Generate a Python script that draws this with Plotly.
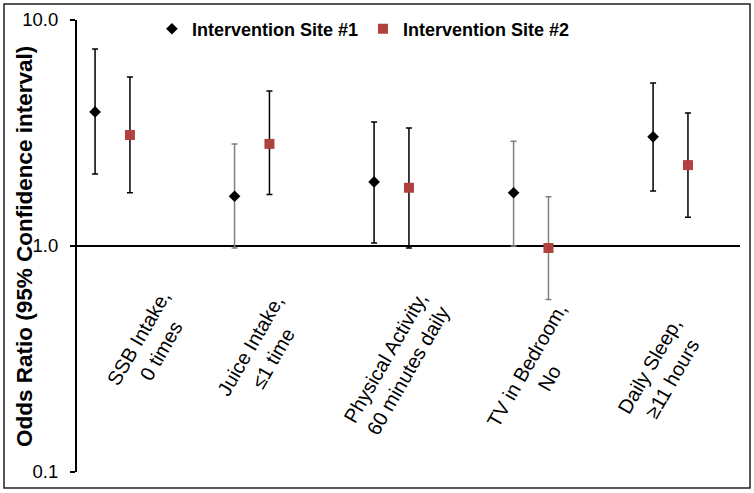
import plotly.graph_objects as go
import numpy as np

categories = ["SSB Intake,<br>0 times", "Juice Intake,<br>≤1 time",
              "Physical Activity,<br>60 minutes daily", "TV in Bedroom,<br>No",
              "Daily Sleep,<br>≥11 hours"]
site1_or = [3.92, 1.66, 1.92, 1.72, 3.04]
site1_lo = [2.08, 0.98, 1.03, 1.00, 1.75]
site1_hi = [7.44, 2.83, 3.54, 2.91, 5.26]
site2_or = [3.10, 2.83, 1.81, 0.98, 2.28]
site2_lo = [1.72, 1.69, 0.98, 0.58, 1.34]
site2_hi = [5.59, 4.85, 3.33, 1.65, 3.88]
site1_gray = [False, True, False, True, False]
site2_gray = [False, False, False, True, False]
y_tickvals = [0.1, 1, 10]
y_ticktext = ["0.1", "1.0", "10.0"]

FONT = "Liberation Sans, Arial, sans-serif"
RED = "#B0413E"
GRAY = "#808080"
offset = 0.125
idx = np.arange(len(categories))

fig = go.Figure()

def add_errors(xs, ors, los, his, gray_flags):
    for flag, col in [(False, "black"), (True, GRAY)]:
        y = [o if g == flag else None for o, g in zip(ors, gray_flags)]
        plus = [h - o for o, h in zip(ors, his)]
        minus = [o - l for o, l in zip(ors, los)]
        fig.add_trace(go.Scatter(
            x=xs, y=y, mode="markers", marker=dict(size=1, opacity=0),
            error_y=dict(type="data", array=plus, arrayminus=minus, color=col,
                         thickness=1.5, width=3),
            showlegend=False, hoverinfo="skip"))

add_errors(idx - offset, site1_or, site1_lo, site1_hi, site1_gray)
add_errors(idx + offset, site2_or, site2_lo, site2_hi, site2_gray)

fig.add_trace(go.Scatter(x=idx - offset, y=site1_or, mode="markers",
                         name="Intervention Site #1",
                         marker=dict(symbol="diamond", size=9, color="black")))
fig.add_trace(go.Scatter(x=idx + offset, y=site2_or, mode="markers",
                         name="Intervention Site #2",
                         marker=dict(symbol="square", size=10, color=RED)))

fig.add_shape(type="line", xref="paper", x0=0, x1=1, yref="y", y0=1, y1=1,
              line=dict(color="black", width=2), layer="below")
# outer border
fig.add_shape(type="rect", xref="paper", yref="paper",
              x0=-0.1101, x1=1.0151, y0=-0.0354, y1=1.0354,
              line=dict(color="#222222", width=1.5))

label_dx = [0.27, 0.07, 0.04, 0.05, -0.07]
label_y = [0.283, 0.265, 0.238, 0.221, 0.222]
for i, lab in enumerate(categories):
    fig.add_annotation(text=lab, x=i + label_dx[i], xref="x", y=label_y[i], yref="paper",
                       textangle=-60, showarrow=False, xanchor="center", yanchor="middle",
                       font=dict(family=FONT, size=20, color="black"), align="center")

fig.add_annotation(text="<b>Odds Ratio (95% Confidence interval)</b>", x=-0.08, xref="paper",
                   y=0.5, yref="paper", textangle=-90, showarrow=False,
                   xanchor="center", yanchor="middle",
                   font=dict(family=FONT, size=22.5, color="black"))

fig.update_layout(
    width=754, height=493,
    margin=dict(l=77, r=14, t=20, b=21, autoexpand=False),
    paper_bgcolor="white", plot_bgcolor="white",
    font=dict(family=FONT, color="black"),
    showlegend=True,
    legend=dict(orientation="h", x=0.113, xanchor="left", y=0.98, yanchor="middle",
                font=dict(family=FONT, size=18, color="black", weight="bold"),
                bgcolor="rgba(0,0,0,0)"),
    xaxis=dict(range=[-0.2545, 4.498], showgrid=False, zeroline=False, showline=False,
               showticklabels=False, ticks=""),
    yaxis=dict(type="log", range=[-1, 1], tickvals=y_tickvals, ticktext=y_ticktext,
               showgrid=False, zeroline=False, showline=True, linecolor="black", linewidth=2,
               ticks="outside", ticklen=5, tickwidth=2, tickcolor="black",
               tickfont=dict(family=FONT, size=18.5, color="black"), ticklabelstandoff=8),
)

fig.write_html("out.html", config={"displayModeBar": False},
               post_script="document.body.style.margin='0';document.body.style.overflow='hidden';")
